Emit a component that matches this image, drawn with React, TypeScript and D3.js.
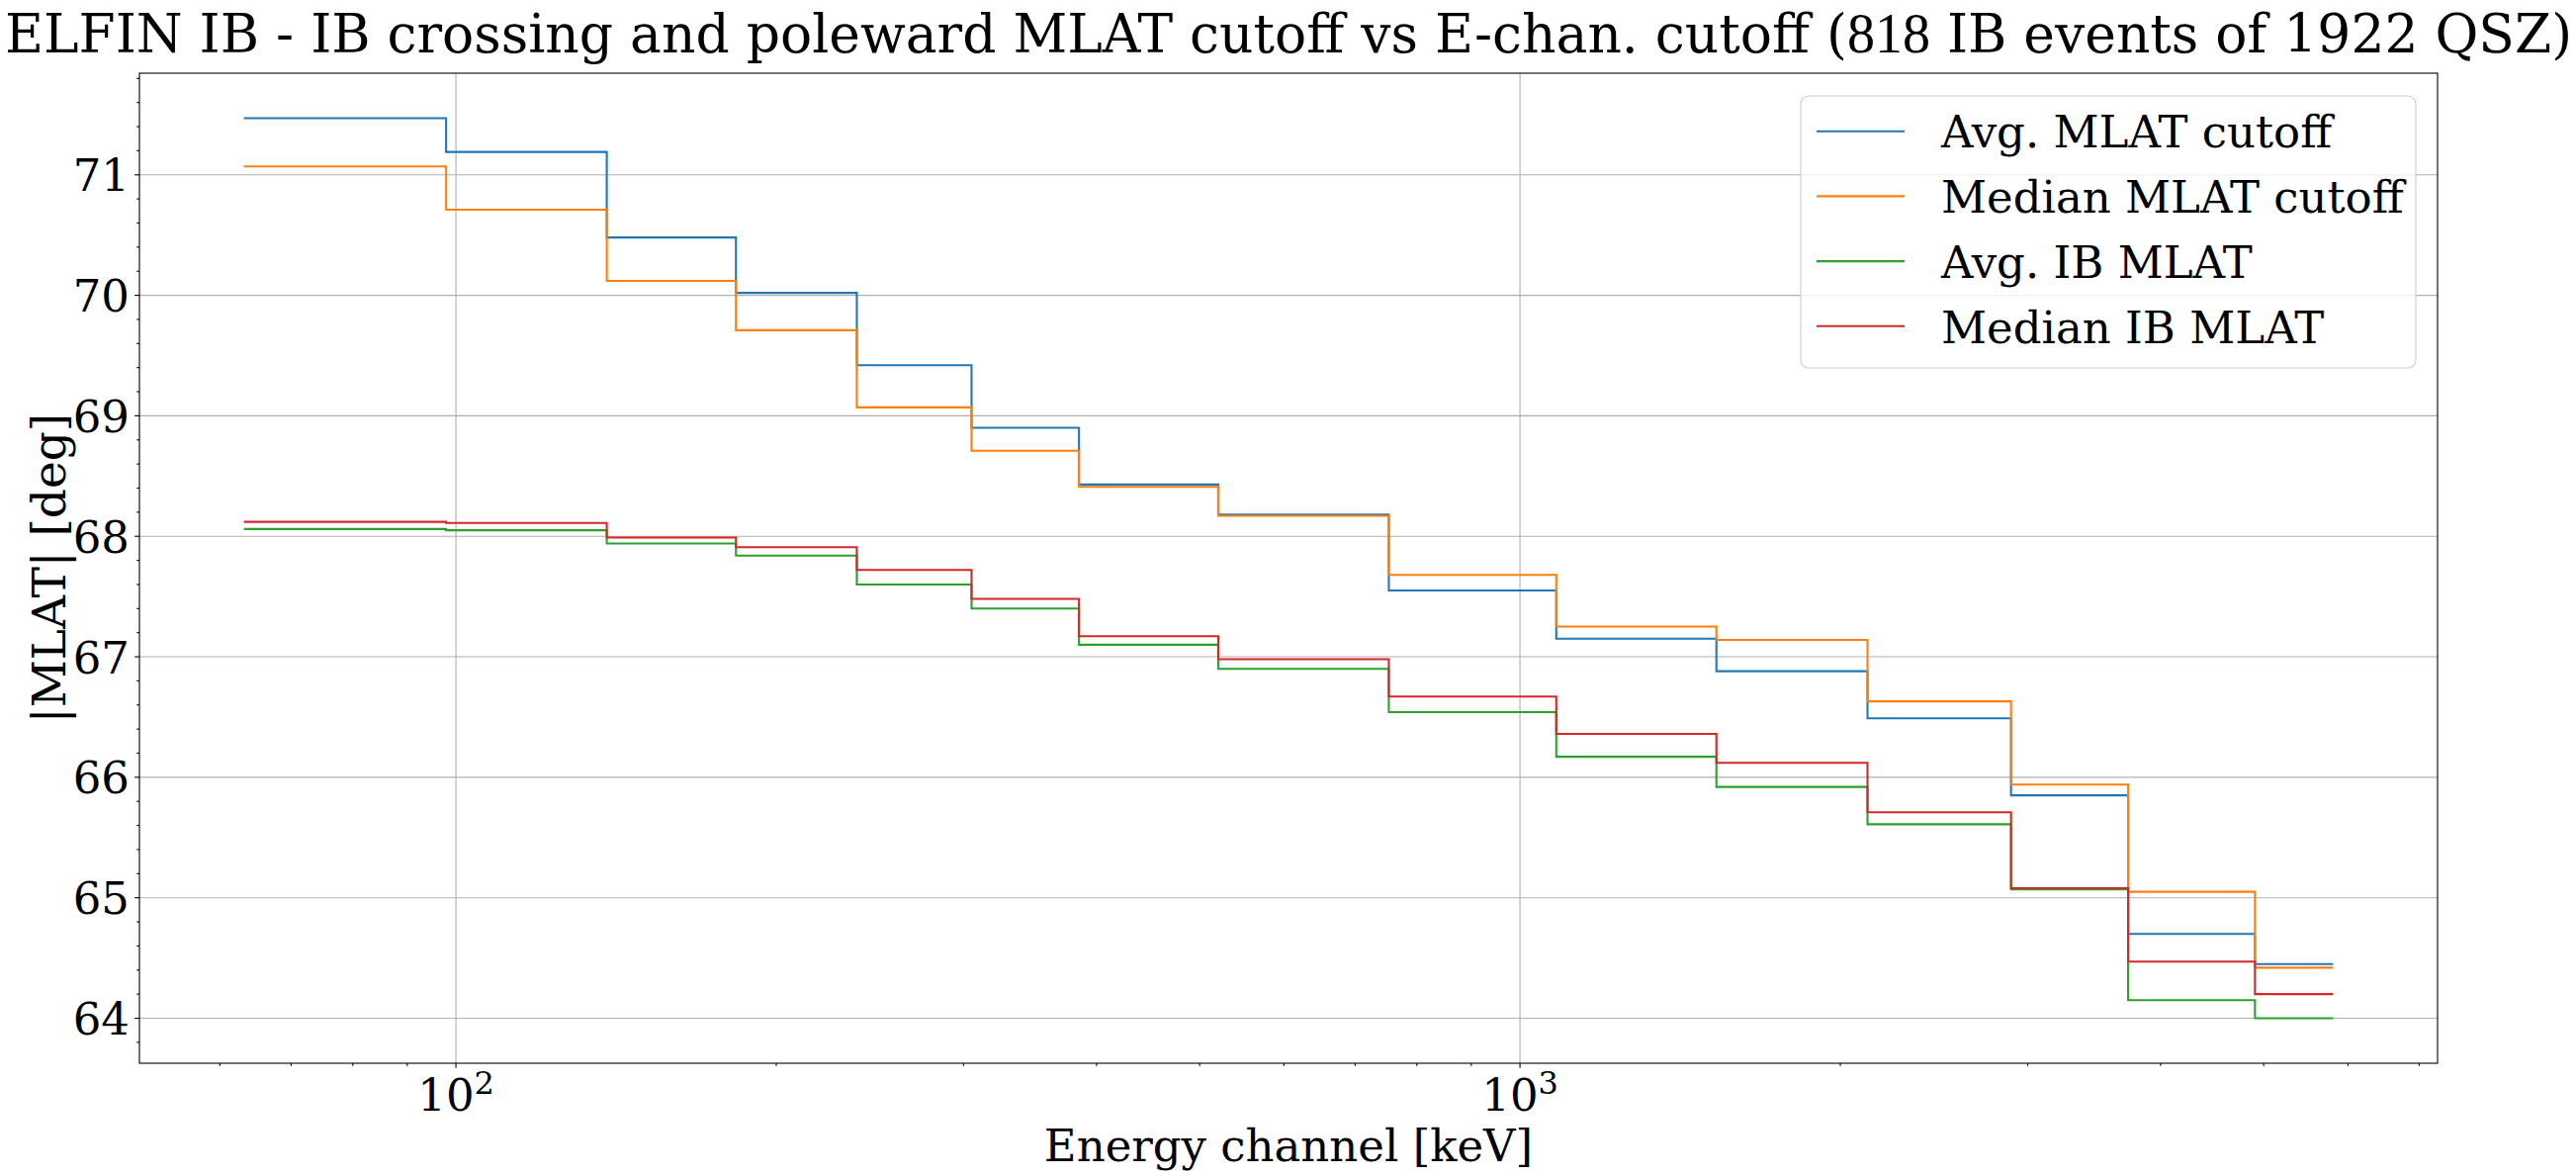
import React, { useEffect, useRef } from 'react';
import * as d3 from 'd3';

// Energy channel centers [keV] used as step edges (last one closes the final step)
const energyEdges: number[] = [63.2, 97.9, 138.6, 183.3, 238.1, 305.2, 385.1, 520.5, 752.9, 1081.7, 1529.7, 2121.3, 2893.9, 3728.6, 4906.1, 5810];

// |MLAT| values per channel [deg]
const avgCutoff: number[] = [71.47, 71.19, 70.48, 70.02, 69.42, 68.90, 68.43, 68.18, 67.55, 67.15, 66.88, 66.49, 65.85, 64.70, 64.45];
const medianCutoff: number[] = [71.07, 70.71, 70.12, 69.71, 69.07, 68.71, 68.41, 68.17, 67.68, 67.25, 67.14, 66.63, 65.94, 65.05, 64.42];
const avgIB: number[] = [68.06, 68.05, 67.94, 67.84, 67.60, 67.40, 67.10, 66.90, 66.54, 66.17, 65.92, 65.61, 65.07, 64.15, 64.00];
const medianIB: number[] = [68.12, 68.11, 67.99, 67.91, 67.72, 67.48, 67.17, 66.98, 66.67, 66.36, 66.12, 65.71, 65.08, 64.47, 64.20];

const seriesNames: string[] = ['Avg. MLAT cutoff', 'Median MLAT cutoff', 'Avg. IB MLAT', 'Median IB MLAT'];
const seriesColors: string[] = ['#1f77b4', '#ff7f0e', '#2ca02c', '#d62728'];

const yTicks: number[] = [64, 65, 66, 67, 68, 69, 70, 71];
const xTicks: number[] = [100, 1000];
const xTickExponents: string[] = ['2', '3'];

const W = 2605;
const H = 1188;
const FONT = '"DejaVu Serif", serif';

const App: React.FC = () => {
  const svgRef = useRef<SVGSVGElement | null>(null);

  useEffect(() => {
    document.body.style.margin = '0';
    const svg = d3.select(svgRef.current);
    svg.selectAll('*').remove();

    const left = 141, right = 2465, top = 74, bottom = 1075;

    // matplotlib-like 5% margins (log space for x)
    const lo = Math.log10(d3.min(energyEdges) as number);
    const hi = Math.log10(d3.max(energyEdges) as number);
    const px = (hi - lo) * 0.05;
    const x = d3.scaleLog().domain([10 ** (lo - px), 10 ** (hi + px)]).range([left, right]);

    const allVals = [...avgCutoff, ...medianCutoff, ...avgIB, ...medianIB];
    const ymin = d3.min(allVals) as number;
    const ymax = d3.max(allVals) as number;
    const py = (ymax - ymin) * 0.05;
    const y = d3.scaleLinear().domain([ymin - py, ymax + py]).range([bottom, top]);

    svg.append('rect').attr('width', W).attr('height', H).attr('fill', 'white');

    // Grid
    const grid = svg.append('g').attr('stroke', '#b0b0b0').attr('stroke-width', 1.1);
    yTicks.forEach(t => {
      grid.append('line').attr('x1', left).attr('x2', right).attr('y1', y(t)).attr('y2', y(t));
    });
    xTicks.forEach(t => {
      grid.append('line').attr('x1', x(t)).attr('x2', x(t)).attr('y1', top).attr('y2', bottom);
    });

    // Step lines
    const line = d3.line<[number, number]>()
      .x(d => x(d[0]))
      .y(d => y(d[1]))
      .curve(d3.curveStepAfter);

    [avgCutoff, medianCutoff, avgIB, medianIB].forEach((vals, k) => {
      const pts: [number, number][] = vals.map((v, i) => [energyEdges[i], v]);
      pts.push([energyEdges[energyEdges.length - 1], vals[vals.length - 1]]);
      svg.append('path')
        .attr('d', line(pts) as string)
        .attr('fill', 'none')
        .attr('stroke', seriesColors[k])
        .attr('stroke-width', 2.08);
    });

    // Spines
    svg.append('rect')
      .attr('x', left).attr('y', top)
      .attr('width', right - left).attr('height', bottom - top)
      .attr('fill', 'none').attr('stroke', 'black').attr('stroke-width', 1.1);

    // Y ticks
    const yAxis = svg.append('g').attr('stroke', 'black').attr('stroke-width', 1.1);
    const [d0, d1] = y.domain();
    for (let v = Math.ceil(d0 * 5) / 5; v <= d1; v += 0.2) {
      const vv = Math.round(v * 5) / 5;
      const major = Math.abs(vv - Math.round(vv)) < 1e-6;
      yAxis.append('line')
        .attr('x1', left).attr('x2', left - (major ? 4.86 : 2.78))
        .attr('y1', y(vv)).attr('y2', y(vv));
    }
    yTicks.forEach(t => {
      svg.append('text')
        .attr('x', left - 10)
        .attr('y', y(t) + 16.5)
        .attr('text-anchor', 'end')
        .attr('font-family', FONT)
        .attr('font-size', 45)
        .text(String(t));
    });

    // X ticks (log major + minor)
    const [xd0, xd1] = x.domain();
    const xAxis = svg.append('g').attr('stroke', 'black').attr('stroke-width', 1.1);
    for (let e = Math.floor(Math.log10(xd0)); e <= Math.ceil(Math.log10(xd1)); e++) {
      for (let m = 1; m <= 9; m++) {
        const v = m * 10 ** e;
        if (v < xd0 || v > xd1) continue;
        xAxis.append('line')
          .attr('x1', x(v)).attr('x2', x(v))
          .attr('y1', bottom).attr('y2', bottom + (m === 1 ? 4.86 : 2.78));
      }
    }
    xTicks.forEach((t, i) => {
      const txt = svg.append('text')
        .attr('x', x(t))
        .attr('y', 1123)
        .attr('text-anchor', 'middle')
        .attr('font-family', FONT)
        .attr('font-size', 45);
      txt.append('tspan').text('10');
      txt.append('tspan').attr('dy', -17).attr('font-size', 32).text(xTickExponents[i]);
    });

    // Axis labels
    svg.append('text')
      .attr('x', (left + right) / 2)
      .attr('y', 1174)
      .attr('text-anchor', 'middle')
      .attr('font-family', FONT)
      .attr('font-size', 45)
      .text('Energy channel [keV]');

    svg.append('text')
      .attr('transform', `translate(66, ${(top + bottom) / 2}) rotate(-90)`)
      .attr('text-anchor', 'middle')
      .attr('font-family', FONT)
      .attr('font-size', 47)
      .text('|MLAT| [deg]');

    // Title
    const title = svg.append('text')
      .attr('x', (left + right) / 2)
      .attr('y', 53)
      .attr('text-anchor', 'middle')
      .attr('font-family', FONT)
      .attr('font-size', 53.5);
    title.append('tspan').text('ELFIN IB - IB crossing and poleward MLAT cutoff vs E-chan. cutoff (');
    title.append('tspan').attr('font-family', '"Liberation Serif", serif').attr('font-size', 56).text('818');
    title.append('tspan').text(' IB events of 1922 QSZ)');

    // Legend
    const lg = svg.append('g');
    lg.append('rect')
      .attr('x', 1821).attr('y', 97)
      .attr('width', 622).attr('height', 275)
      .attr('rx', 8)
      .attr('fill', 'white').attr('fill-opacity', 0.8)
      .attr('stroke', '#cccccc').attr('stroke-width', 1.1);
    seriesNames.forEach((name, i) => {
      const ly = 132.7 + i * 65.7;
      lg.append('line')
        .attr('x1', 1837).attr('x2', 1926)
        .attr('y1', ly).attr('y2', ly)
        .attr('stroke', seriesColors[i]).attr('stroke-width', 2.08);
      lg.append('text')
        .attr('x', 1963).attr('y', ly + 16.7)
        .attr('font-family', FONT)
        .attr('font-size', 45)
        .text(name);
    });
  }, []);

  return <svg ref={svgRef} width={W} height={H} style={{ display: 'block' }} />;
};

export default App;
